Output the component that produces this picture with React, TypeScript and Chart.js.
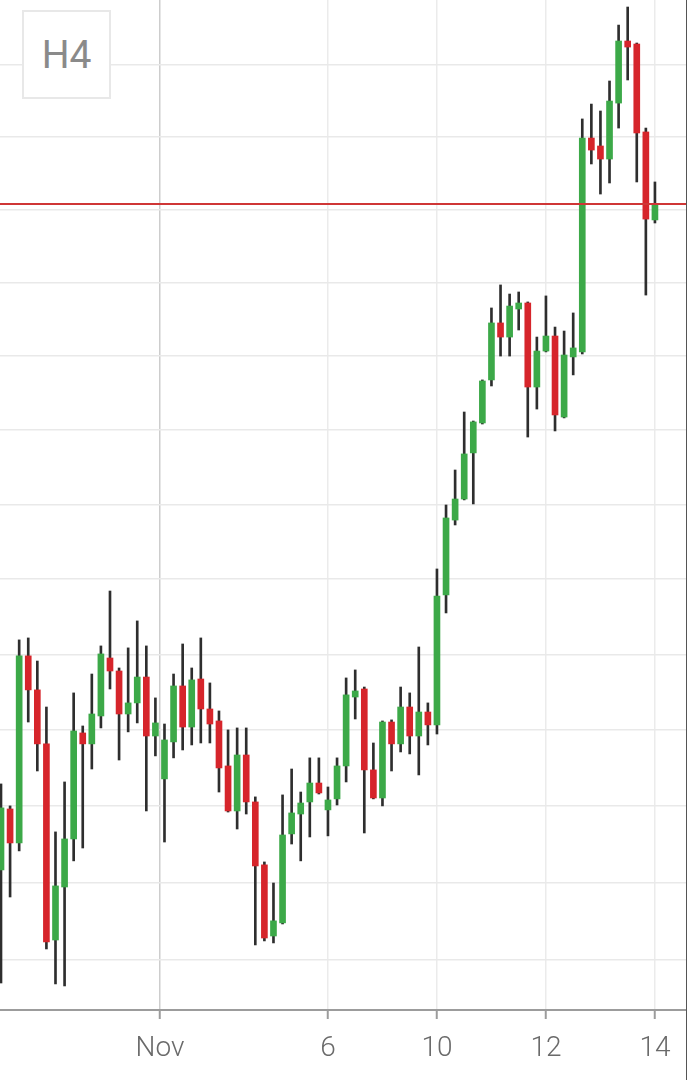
import React, { useEffect, useRef } from "react";
import { Chart, registerables } from "chart.js";

Chart.register(...registerables);

// H4 candles (open, high, low, close), oldest first
const OPEN = [
  805.84, 809.82, 807.60, 819.90, 817.65, 814.09, 801.29, 804.73, 807.86, 814.81,
  814.09, 815.93, 819.76, 818.90, 816.06, 816.79, 818.50, 814.61, 811.79, 814.22,
  817.91, 815.20, 818.37, 816.39, 815.60, 812.64, 809.69, 813.36, 810.28, 806.17,
  801.55, 802.40, 808.19, 809.49, 810.28, 811.52, 809.76, 810.48, 812.64, 817.18,
  817.71, 812.38, 810.54, 815.53, 814.09, 816.52, 814.61, 816.19, 815.34, 823.95,
  828.95, 830.36, 833.46, 835.48, 838.39, 842.26, 841.30, 843.21, 843.62, 837.91,
  840.35, 841.37, 835.88, 839.95, 840.29, 854.94, 854.39, 853.49, 857.36, 861.67,
  861.46, 855.36, 849.30,
];
const HIGH = [
  811.46, 810.02, 820.96, 821.09, 819.56, 816.52, 808.32, 811.59, 817.45, 815.27,
  818.70, 820.56, 824.21, 819.10, 820.43, 822.22, 820.56, 817.12, 815.40, 818.70,
  820.69, 819.10, 821.09, 818.11, 816.26, 815.01, 815.14, 815.14, 810.61, 806.36,
  804.99, 810.74, 812.44, 810.93, 813.17, 813.17, 811.26, 813.17, 818.44, 818.97,
  817.84, 814.15, 815.60, 815.67, 817.84, 817.45, 820.49, 816.79, 825.68, 829.96,
  832.31, 836.22, 835.61, 838.39, 843.28, 844.85, 844.23, 844.37, 843.69, 841.30,
  844.10, 841.98, 841.71, 842.94, 856.26, 857.29, 856.81, 858.89, 862.78, 864.04,
  861.53, 855.63, 851.91,
];
const LOW = [
  798.51, 804.08, 807.08, 815.53, 812.31, 800.71, 798.45, 798.32, 806.43, 807.27,
  812.44, 815.14, 817.71, 813.03, 814.88, 815.47, 809.69, 813.30, 807.66, 813.17,
  813.69, 814.02, 814.15, 814.15, 810.93, 809.62, 808.51, 809.49, 800.97, 801.23,
  801.10, 802.33, 807.53, 806.43, 807.99, 810.80, 808.06, 810.08, 811.59, 815.73,
  808.25, 810.48, 810.02, 812.31, 813.56, 813.43, 812.05, 814.02, 814.74, 822.75,
  828.62, 830.30, 830.03, 835.41, 837.98, 840.01, 840.01, 841.78, 834.53, 836.42,
  840.29, 834.94, 835.82, 838.73, 840.15, 853.15, 851.08, 851.84, 855.63, 858.96,
  851.91, 844.16, 849.09,
];
const CLOSE = [
  809.89, 807.60, 819.90, 817.65, 814.09, 801.16, 804.80, 807.86, 814.94, 814.09,
  816.06, 820.03, 818.90, 816.06, 816.79, 818.50, 814.61, 815.47, 814.35, 817.91,
  815.20, 818.31, 816.39, 815.40, 812.51, 809.69, 813.36, 810.28, 806.10, 801.42,
  802.53, 808.12, 809.56, 810.21, 811.52, 810.87, 810.41, 812.64, 817.32, 817.58,
  812.38, 810.54, 815.53, 814.09, 816.52, 814.61, 816.19, 815.34, 823.88, 829.09,
  830.36, 833.39, 835.55, 838.32, 842.26, 841.30, 843.41, 843.62, 837.91, 840.35,
  841.37, 836.02, 840.08, 840.56, 854.94, 854.11, 853.49, 857.50, 861.67, 861.25,
  855.29, 849.36, 850.39,
];

// x-axis ticks (positions in candle index units) and their labels
const TICK_POS = [17.5, 36, 48, 60, 72];
const TICK_LABELS = ["Nov", "6", "10", "12", "14"];

// horizontal grid levels (price axis is logarithmic)
const GRID_LEVELS = [800, 805, 810, 815, 820, 825, 830, 835, 840, 845, 850, 855, 860];

const TIMEFRAME = "H4";

const GREEN = "#3ca948";
const RED = "#d6252b";
const WICK = "#2e2e2e";

export default function App() {
  const canvasRef = useRef<HTMLCanvasElement | null>(null);

  useEffect(() => {
    const canvas = canvasRef.current;
    if (!canvas) return;
    const idx = OPEN.map((_, i) => i);
    const up = (i: number) => CLOSE[i] >= OPEN[i];

    const priceLine = {
      id: "priceLine",
      afterDatasetsDraw(chart: any) {
        const { ctx, chartArea, scales } = chart;
        const y = scales.y.getPixelForValue(CLOSE[CLOSE.length - 1]);
        ctx.save();
        ctx.strokeStyle = "#cf3636";
        ctx.lineWidth = 2;
        ctx.beginPath();
        ctx.moveTo(chartArea.left, y);
        ctx.lineTo(chartArea.right, y);
        ctx.stroke();
        ctx.restore();
      },
    };

    const chart = new Chart(canvas, {
      type: "bar",
      data: {
        datasets: [
          {
            label: "body",
            data: idx.map((i) => ({ x: i, y: [OPEN[i], CLOSE[i]] })) as any,
            backgroundColor: idx.map((i) => (up(i) ? GREEN : RED)),
            borderWidth: 0,
            barThickness: 6,
            grouped: false,
          } as any,
          {
            label: "wick",
            data: idx.map((i) => ({ x: i, y: [LOW[i], HIGH[i]] })) as any,
            backgroundColor: WICK,
            borderWidth: 0,
            barThickness: 2,
            grouped: false,
          } as any,
        ],
      },
      options: {
        responsive: false,
        animation: false,
        devicePixelRatio: 1,
        layout: { padding: 0 },
        plugins: {
          legend: { display: false },
          tooltip: { enabled: false },
        },
        scales: {
          x: {
            type: "linear",
            min: -0.11,
            max: 75.42,
            offset: false,
            grid: {
              offset: false,
              color: (c: any) => (c.index === 0 ? "#cdcdcd" : "#ebebeb"),
              lineWidth: 1.5,
              tickLength: 9,
              tickColor: "#9c9c9c",
              tickWidth: 2,
            },
            border: { display: true, color: "#9c9c9c", width: 2 },
            afterBuildTicks: (s: any) => {
              s.ticks = TICK_POS.map((v) => ({ value: v }));
            },
            afterFit: (s: any) => {
              s.height = 70;
            },
            ticks: {
              autoSkip: false,
              maxRotation: 0,
              padding: 13,
              color: "#6a6a6a",
              font: { family: "Roboto", size: 28, weight: 300 as any },
              callback: (_v: any, i: number) => TICK_LABELS[i],
            },
          },
          y: {
            type: "logarithmic",
            position: "left",
            min: 796.77,
            max: 864.53,
            grid: { color: "#e9e9e9", lineWidth: 1.5, drawTicks: false },
            border: { display: false },
            afterBuildTicks: (s: any) => {
              s.ticks = GRID_LEVELS.map((v) => ({ value: v }));
            },
            afterFit: (s: any) => {
              s.width = 0;
            },
            ticks: { display: false },
          },
        },
      },
      plugins: [priceLine],
    });
    return () => chart.destroy();
  }, []);

  return (
    <div
      style={{
        position: "fixed",
        left: 0,
        top: 0,
        width: 687,
        height: 1080,
        background: "#ffffff",
        overflow: "hidden",
      }}
    >
      <canvas
        ref={canvasRef}
        width={686}
        height={1080}
        style={{ position: "absolute", left: 0, top: 0, width: 686, height: 1080 }}
      />
      <div
        style={{
          position: "absolute",
          left: 686,
          top: 0,
          width: 1,
          height: 1080,
          background: "#555555",
        }}
      />
      <div
        style={{
          position: "absolute",
          left: 22,
          top: 10,
          width: 89,
          height: 89,
          boxSizing: "border-box",
          border: "2px solid #e8e8e8",
          background: "#ffffff",
          display: "flex",
          alignItems: "center",
          justifyContent: "center",
          fontFamily: "Roboto",
          fontSize: 39,
          color: "#8a8a8a",
        }}
      >
        {TIMEFRAME}
      </div>
    </div>
  );
}
